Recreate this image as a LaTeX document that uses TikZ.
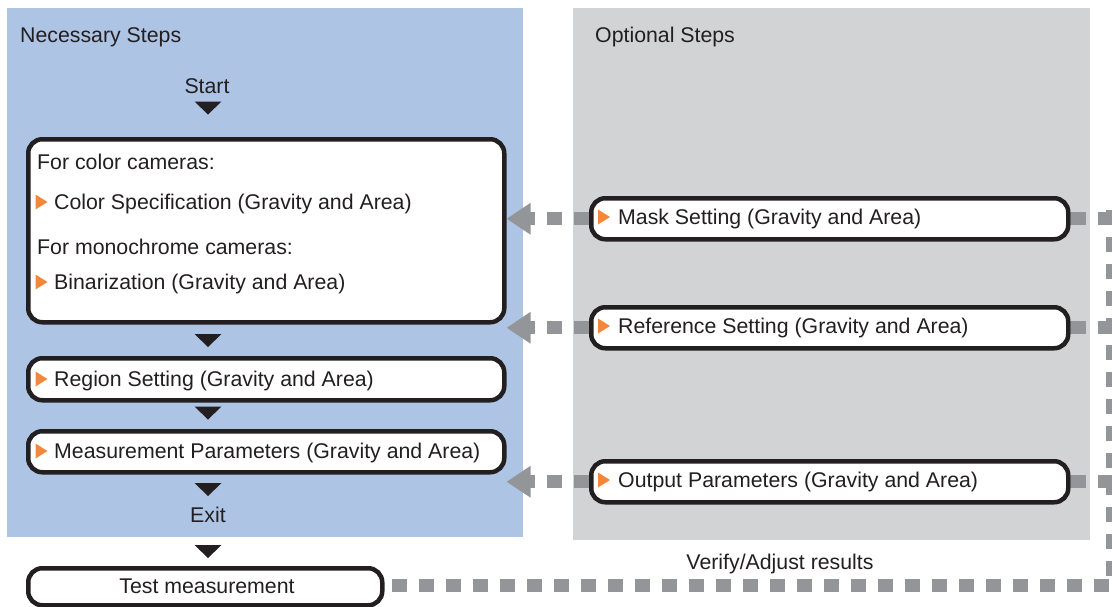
\documentclass[tikz,border=0pt]{standalone}
\usepackage{fontspec}
\setmainfont{Liberation Sans}
\usetikzlibrary{arrows.meta}
\definecolor{panelblue}{HTML}{ADC4E4}
\definecolor{panelgray}{HTML}{D1D3D4}
\definecolor{dashgray}{HTML}{939598}
\definecolor{tipor}{HTML}{F5873A}
\definecolor{ink}{HTML}{231F20}
\tikzset{
  lbl/.style={inner sep=0pt, anchor=base west, text=ink, font=\fontsize{21.3}{25}\selectfont},
  clbl/.style={lbl, anchor=base},
  stepbox/.style={draw=ink, line width=4.5pt, rounded corners=14pt, fill=white, anchor=north west, inner sep=0pt},
  panel/.style={anchor=north west, inner sep=0pt, outer sep=0pt},
  gline/.style={draw=dashgray, line width=13pt, dash pattern=on 15pt off 12pt},
  garrow/.style={gline, -{Triangle[length=24pt,width=30pt]}},
  downtri/.pic={\fill[ink] (-13.5,-6.5) -- (13.5,-6.5) -- (0,6.5) -- cycle;},
  ortri/.pic={\fill[tipor] (-6,-7.5) -- (6,0) -- (-6,7.5) -- cycle;},
}
\begin{document}
\begin{tikzpicture}[x=1pt,y=-1pt]
\useasboundingbox (0,0) rectangle (1112,606);
% panels
\node[panel, fill=panelblue, minimum width=516pt, minimum height=529pt] (necpanel) at (7,8) {};
\node[panel, fill=panelgray, minimum width=517pt, minimum height=532pt] (optpanel) at (573,8) {};
\node[lbl] (nectitle) at (20,42) {Necessary Steps};
\node[lbl] (opttitle) at (595,42) {Optional Steps};

% necessary column
\node[clbl] (start) at (207,93) {Start};
\pic at (208,108) {downtri};
\node[stepbox, minimum width=476pt, minimum height=183pt] (big) at (26,137) {};
\node[lbl] (forcolor) at (37,169) {For color cameras:};
\pic at (41.5,202) {ortri};
\node[lbl] (colspec) at (54,209) {Color Specification (Gravity and Area)};
\node[lbl] (formono) at (37,254) {For monochrome cameras:};
\pic at (41.5,282) {ortri};
\node[lbl] (binar) at (54,289) {Binarization (Gravity and Area)};
\pic at (208,340.5) {downtri};
\node[stepbox, minimum width=476pt, minimum height=42pt] (region) at (26,356) {};
\pic at (41.5,379) {ortri};
\node[lbl] (regiontxt) at (54,386) {Region Setting (Gravity and Area)};
\pic at (208,413) {downtri};
\node[stepbox, minimum width=476pt, minimum height=41pt] (meas) at (26,429) {};
\pic at (41.5,451) {ortri};
\node[lbl] (meastxt) at (54,458) {Measurement Parameters (Gravity and Area)};
\pic at (208,489.5) {downtri};
\node[clbl] (exit) at (208,522) {Exit};
\pic at (208,551.5) {downtri};
\node[stepbox, minimum width=354pt, minimum height=37pt] (test) at (26,566) {};
\node[clbl] (testtxt) at (207,593) {Test measurement};

% optional column
\node[stepbox, minimum width=477pt, minimum height=41pt] (mask) at (589,196) {};
\pic at (604,217) {ortri};
\node[lbl] (masktxt) at (618,224) {Mask Setting (Gravity and Area)};
\node[stepbox, minimum width=477pt, minimum height=41pt] (ref) at (589,305) {};
\pic at (604,326) {ortri};
\node[lbl] (reftxt) at (618,333) {Reference Setting (Gravity and Area)};
\node[stepbox, minimum width=477pt, minimum height=41pt] (out) at (589,459) {};
\pic at (604,480) {ortri};
\node[lbl] (outtxt) at (618,487) {Output Parameters (Gravity and Area)};

% connectors
\draw[garrow] (mask.west) -- (mask.west -| big.east);
\draw[garrow] (ref.west) -- (ref.west -| big.east);
\draw[garrow] (out.west) -- (out.west -| meas.east);

\coordinate (rtop) at (1112,210);
\coordinate (rbot) at (1112,585);
\draw[gline] (mask.east) -- (mask.east -| rtop);
\draw[gline] (ref.east) -- (ref.east -| rtop);
\draw[gline] (out.east) -- (out.east -| rtop);
\draw[gline] (rtop) -- (rbot) -- (rbot -| test.east);
\node[clbl] (verify) at (780,569) {Verify/Adjust results};
\end{tikzpicture}
\end{document}
